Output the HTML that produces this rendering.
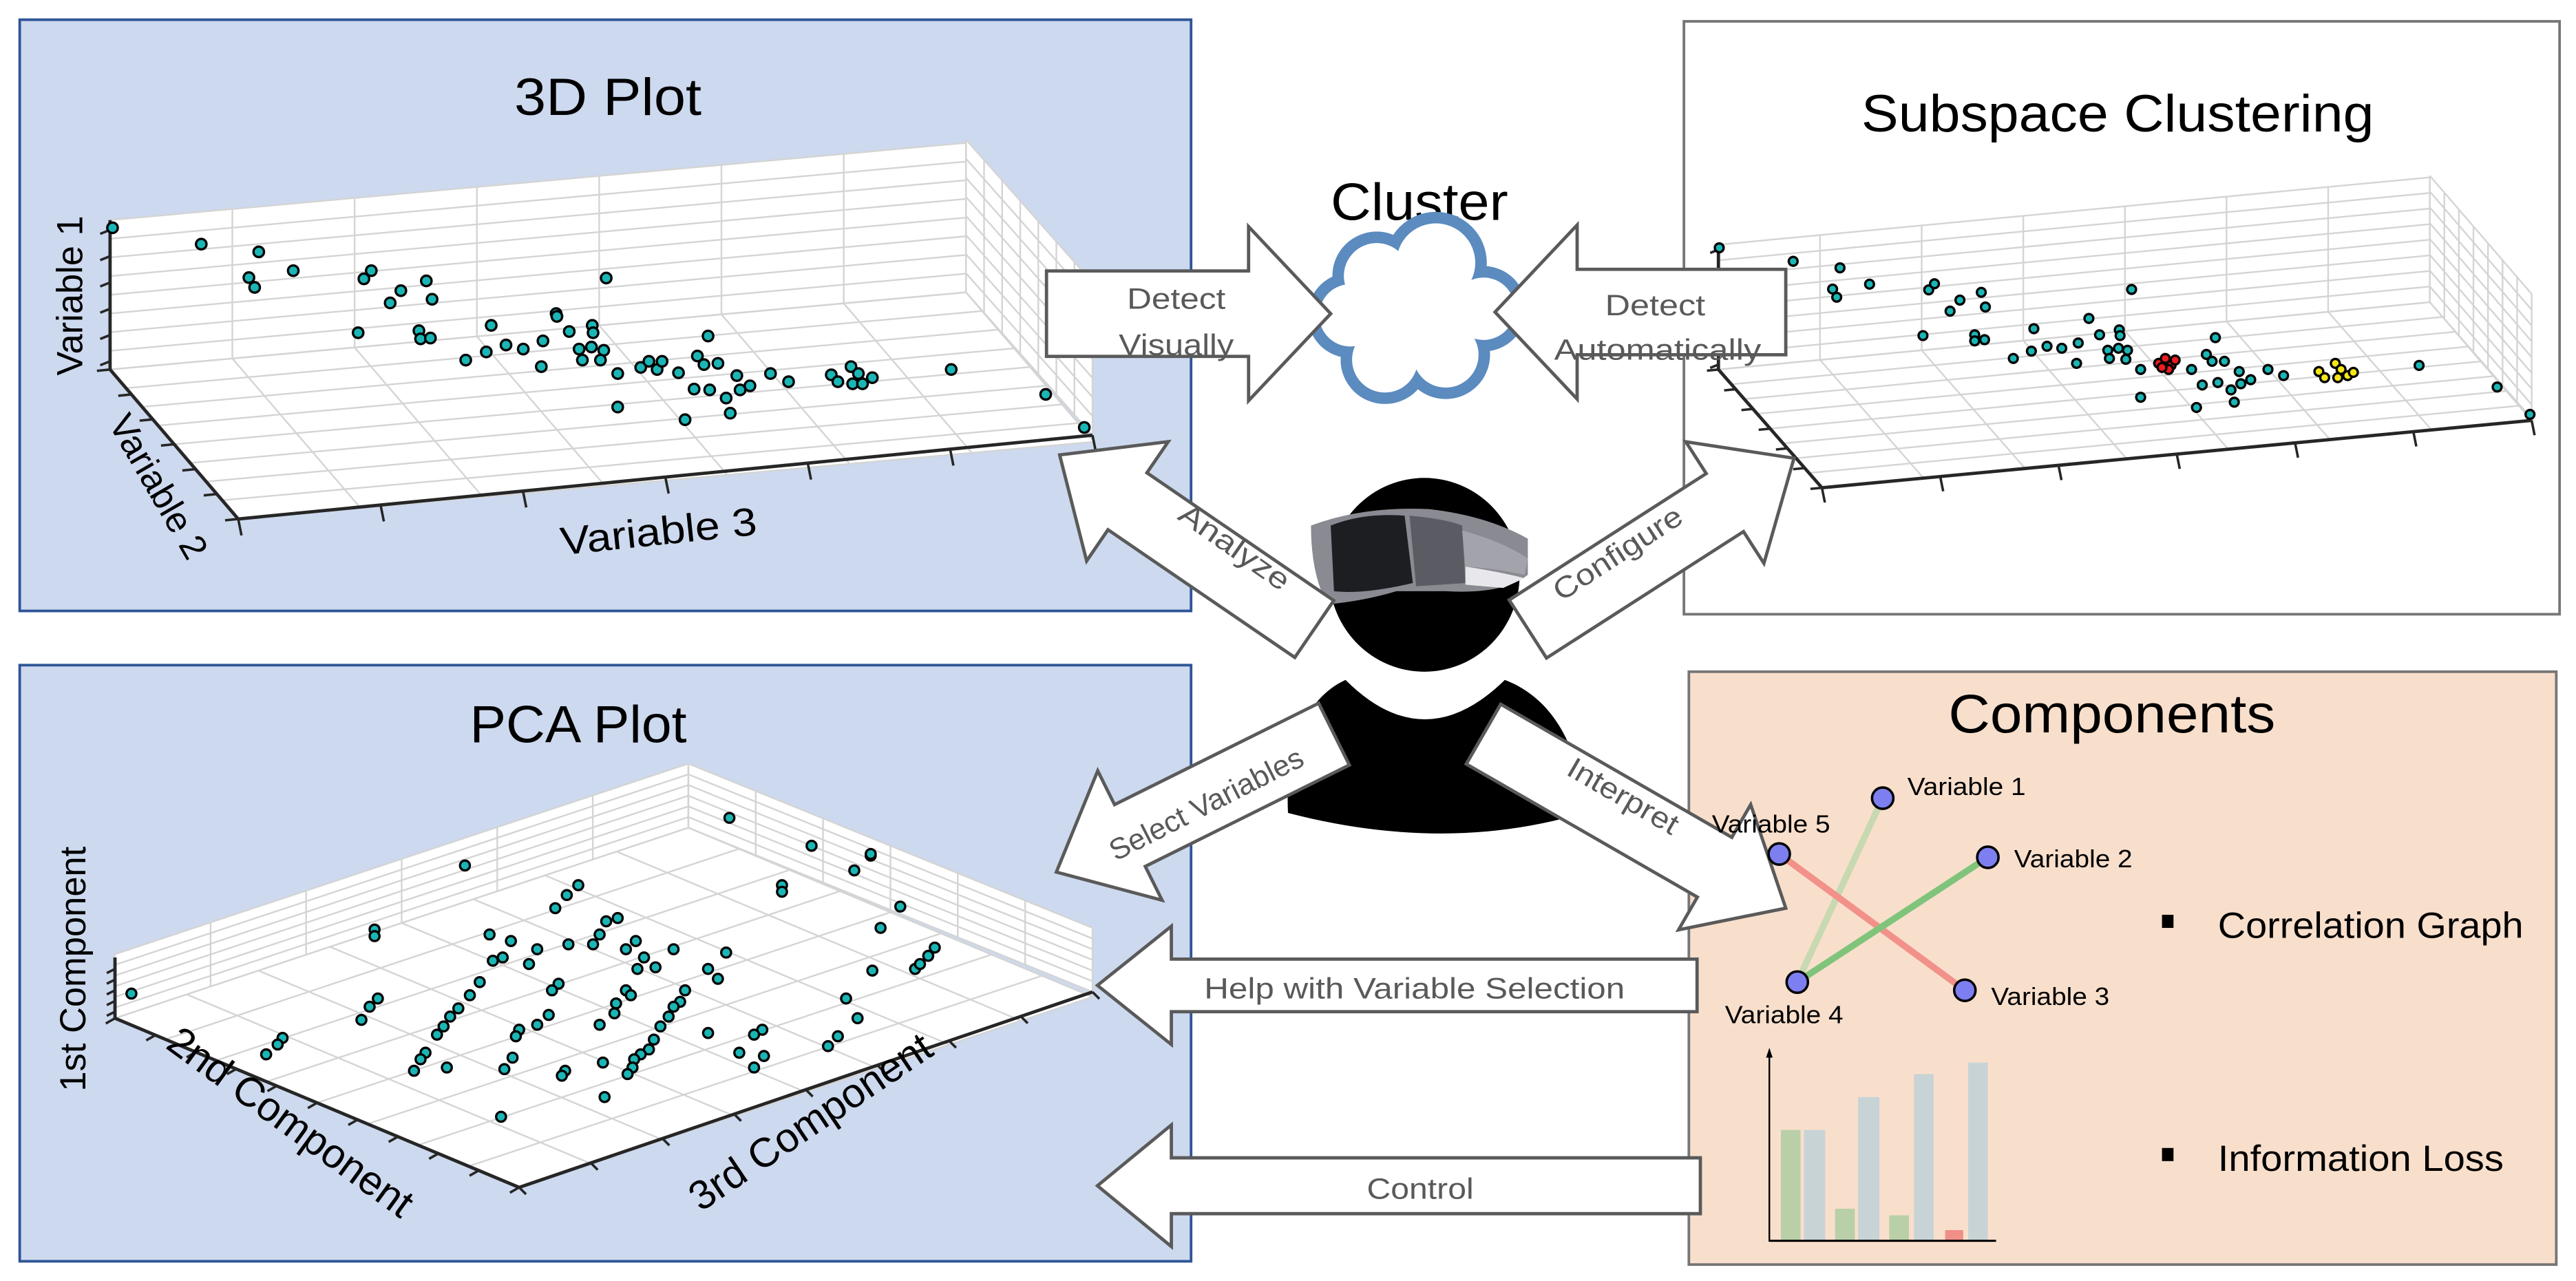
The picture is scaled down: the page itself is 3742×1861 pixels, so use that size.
<!DOCTYPE html>
<html><head><meta charset="utf-8"><style>
html,body{margin:0;padding:0;background:#fff;}
svg{display:block;}
.t{font-family:"Liberation Sans Narrow","Liberation Sans",sans-serif;}
.w{font-family:"Liberation Sans",sans-serif;}
</style></head><body>
<svg id="s" width="3742" height="1861" viewBox="0 0 1568 780" preserveAspectRatio="none" xmlns="http://www.w3.org/2000/svg">
<rect x="0" y="0" width="1568" height="780" fill="#fff"/>
<rect x="12" y="12" width="713" height="360" fill="#cdd9ee" stroke="#2f5597" stroke-width="1.6"/>
<rect x="1025" y="13" width="533" height="361" fill="#fff" stroke="#767676" stroke-width="1.6"/>
<rect x="12" y="405" width="713" height="363" fill="#cdd9ee" stroke="#2f5597" stroke-width="1.6"/>
<rect x="1028" y="409" width="528" height="361" fill="#f8dfcc" stroke="#767676" stroke-width="1.6"/>
<g id="plots"></g>
<text class="t" x="313" y="70" font-size="32" textLength="114" lengthAdjust="spacingAndGlyphs">3D Plot</text>
<text class="t" x="1133" y="80" font-size="32" textLength="312" lengthAdjust="spacingAndGlyphs">Subspace Clustering</text>
<text class="t" x="286" y="452" font-size="32" textLength="132" lengthAdjust="spacingAndGlyphs">PCA Plot</text>
<text class="t" x="1186" y="446" font-size="33" textLength="199" lengthAdjust="spacingAndGlyphs">Components</text>
<text class="t" x="810" y="134" font-size="32" textLength="108" lengthAdjust="spacingAndGlyphs">Cluster</text>
<text class="w" font-size="22" text-anchor="middle" transform="translate(50,180) rotate(-90)">Variable 1</text>
<text class="w" font-size="22" text-anchor="middle" transform="translate(90,300) rotate(60)">Variable 2</text>
<text class="t" font-size="24" transform="translate(342,338) rotate(-6)" textLength="120" lengthAdjust="spacingAndGlyphs">Variable 3</text>
<text class="w" font-size="22" text-anchor="middle" transform="translate(52,590) rotate(-90)">1st Component</text>
<text class="t" font-size="25" text-anchor="middle" transform="translate(172,690) rotate(36)">2nd Component</text>
<text class="t" font-size="25" text-anchor="middle" transform="translate(498,690) rotate(-34)">3rd Component</text>
<g id="cloud"></g>
<ellipse cx="867" cy="350" rx="58" ry="59" fill="#000"/>
<path d="M784,495 C782,455 795,425 819,414 Q867,462 916,414 C945,425 962,455 964,495 Q880,520 784,495 Z" fill="#000"/>
<path d="M798,320 Q830,308 870,310 Q905,314 930,328 L930,350 Q915,362 880,360 L850,360 Q830,366 808,368 Q798,350 798,320 Z" fill="#8a8a92"/>
<path d="M810,320 Q830,312 855,314 L860,355 Q830,362 812,360 Z" fill="#1d1e22"/>
<path d="M858,314 Q880,316 890,320 L892,355 L862,357 Z" fill="#5a5b63"/>
<path d="M890,323 Q915,330 930,340 L928,350 Q910,346 892,345 Z" fill="#a3a3ab"/>
<path d="M892,345 Q912,348 928,352 L915,358 L892,356 Z" fill="#e8e8ec"/>
<g id="arrows"></g>
<line x1="1146" y1="486" x2="1094" y2="598" stroke="#c8d9b2" stroke-width="4"/>
<line x1="1083" y1="520" x2="1196" y2="603" stroke="#f2918a" stroke-width="4"/>
<line x1="1210" y1="522" x2="1094" y2="598" stroke="#80c47c" stroke-width="4"/>
<g fill="#7d7ff0" stroke="#000" stroke-width="1.5">
<circle cx="1146" cy="486" r="6.5"/><circle cx="1083" cy="520" r="6.5"/><circle cx="1210" cy="522" r="6.5"/><circle cx="1094" cy="598" r="6.5"/><circle cx="1196" cy="603" r="6.5"/>
</g>
<g class="t" font-size="15">
<text x="1161" y="484" textLength="72" lengthAdjust="spacingAndGlyphs">Variable 1</text>
<text x="1042" y="507" textLength="72" lengthAdjust="spacingAndGlyphs">Variable 5</text>
<text x="1226" y="528" textLength="72" lengthAdjust="spacingAndGlyphs">Variable 2</text>
<text x="1050" y="623" textLength="72" lengthAdjust="spacingAndGlyphs">Variable 4</text>
<text x="1212" y="612" textLength="72" lengthAdjust="spacingAndGlyphs">Variable 3</text>
</g>
<rect x="1316" y="557" width="7" height="8" fill="#000"/>
<text class="t" x="1350" y="571" font-size="22" textLength="186" lengthAdjust="spacingAndGlyphs">Correlation Graph</text>
<rect x="1316" y="699" width="7" height="8" fill="#000"/>
<text class="t" x="1350" y="713" font-size="22" textLength="174" lengthAdjust="spacingAndGlyphs">Information Loss</text>
<g>
<rect x="1084" y="688" width="12" height="67" fill="#b9cfa8"/>
<rect x="1098" y="688" width="13" height="67" fill="#c8d3d6"/>
<rect x="1117" y="736" width="12" height="19" fill="#b9cfa8"/>
<rect x="1131" y="668" width="13" height="87" fill="#c8d3d6"/>
<rect x="1150" y="740" width="12" height="15" fill="#b9cfa8"/>
<rect x="1165" y="654" width="12" height="101" fill="#c8d3d6"/>
<rect x="1184" y="749" width="11" height="6" fill="#ef8f88"/>
<rect x="1198" y="647" width="12" height="108" fill="#c8d3d6"/>
<line x1="1077" y1="641" x2="1077" y2="756" stroke="#000" stroke-width="1"/>
<line x1="1077" y1="755.5" x2="1215" y2="755.5" stroke="#000" stroke-width="1.3"/>
<path d="M1075,644 L1077,638 L1079,644 Z" fill="#000"/>
</g>
<g id="labels" class="t" font-size="18" fill="#595959">
<text x="686" y="188" textLength="60" lengthAdjust="spacingAndGlyphs">Detect</text>
<text x="681" y="216" textLength="70" lengthAdjust="spacingAndGlyphs">Visually</text>
<text x="977" y="192" textLength="61" lengthAdjust="spacingAndGlyphs">Detect</text>
<text x="946" y="219" textLength="126" lengthAdjust="spacingAndGlyphs">Automatically</text>
<text text-anchor="middle" transform="translate(748,338) rotate(35)" textLength="78" lengthAdjust="spacingAndGlyphs">Analyze</text>
<text text-anchor="middle" transform="translate(988,342) rotate(-33)" textLength="90" lengthAdjust="spacingAndGlyphs">Configure</text>
<text text-anchor="middle" transform="translate(737,495) rotate(-27)" textLength="130" lengthAdjust="spacingAndGlyphs">Select Variables</text>
<text text-anchor="middle" transform="translate(985,490) rotate(30)" textLength="75" lengthAdjust="spacingAndGlyphs">Interpret</text>
<text x="733" y="608" textLength="256" lengthAdjust="spacingAndGlyphs">Help with Variable Selection</text>
<text x="832" y="730" textLength="65" lengthAdjust="spacingAndGlyphs">Control</text>
</g>
</svg>
<script>
(function(){
var NS="http://www.w3.org/2000/svg";
function el(parent,tag,attrs){var e=document.createElementNS(NS,tag);for(var k in attrs)e.setAttribute(k,attrs[k]);parent.appendChild(e);return e;}
var P=document.getElementById('plots');
function poly(pts,fill){el(P,'polygon',{points:pts.map(function(p){return p.join(',')}).join(' '),fill:fill,stroke:'none'});}
function grid(o,u,v,nu,nv,col){
  for(var i=0;i<=nu;i++){var a=[o[0]+u[0]*i/nu,o[1]+u[1]*i/nu];el(P,'line',{x1:a[0],y1:a[1],x2:a[0]+v[0],y2:a[1]+v[1],stroke:col||'#d4d4d4','stroke-width':1});}
  for(var j=0;j<=nv;j++){var b=[o[0]+v[0]*j/nv,o[1]+v[1]*j/nv];el(P,'line',{x1:b[0],y1:b[1],x2:b[0]+u[0],y2:b[1]+u[1],stroke:col||'#d4d4d4','stroke-width':1});}
}
function quad(o,u,v,fill){poly([o,[o[0]+u[0],o[1]+u[1]],[o[0]+u[0]+v[0],o[1]+u[1]+v[1]],[o[0]+v[0],o[1]+v[1]]],fill);}
function ln(a,b,w,c){el(P,'line',{x1:a[0],y1:a[1],x2:b[0],y2:b[1],stroke:c||'#262626','stroke-width':w||2});}
function ticks(a,b,n,d,len){for(var i=0;i<=n;i++){var x=a[0]+(b[0]-a[0])*i/n,y=a[1]+(b[1]-a[1])*i/n;ln([x,y],[x+d[0]*len,y+d[1]*len],1.5);}}
function dots(list,sx,ox,sy,oy,fill,r){list.forEach(function(p){el(P,'circle',{cx:p[0]*sx+ox,cy:p[1]*sy+oy,r:r||3.2,fill:fill||'#1bb5b5',stroke:'#000','stroke-width':1.4});});}
var o=[67,225],U=[521,-47],V=[0,-91],W=[78,91];
quad(o,U,V,'#fff');quad(o,U,W,'#fff');quad([588,178],[77,87],[0,-93],'#fff');
grid(o,U,V,7,8);grid(o,U,W,7,8);grid([588,178],[77,87],[0,-93],7,8);
ln([67,134],[67,225]);ln([67,225],[145,316]);ln([145,316],[665,265]);
ticks([67,140],[67,220],5,[-1,0.4],6);ticks([67,225],[145,316],6,[-1,0.1],8);ticks([145,316],[665,265],6,[0.2,1],10);
var d3=[[137,558],[245,598],[315,617],[357,663],[303,680],[310,704],[443,683],[452,663],[519,688],[488,712],[526,733],[475,742],[738,681],[436,815],[510,810],[512,830],[524,828],[598,797],[677,768],[693,812],[721,797],[722,815],[661,835],[637,855],[616,845],[592,862],[567,882],[659,898],[705,855],[709,882],[720,850],[735,858],[731,882],[752,915],[752,997],[862,823],[849,872],[857,893],[874,890],[826,913],[897,920],[938,915],[960,935],[845,953],[864,955],[834,1028],[889,1012],[884,975],[901,955],[913,945],[1158,905],[1273,966],[1320,1047],[780,900],[790,885],[800,905],[806,885],[1012,918],[1020,935],[1036,898],[1045,915],[1038,940],[1050,940],[1062,925],[678,775]];
dots(d3,0.5,0,0.2486,0);
o=[1046,225];U=[433,-41];V=[0,-76];W=[63,72];
grid(o,U,V,7,8);grid(o,U,W,7,8);grid([1479,184],[62,72],[0,-77],7,8);
ln([1046,149],[1046,225]);ln([1046,225],[1109,297]);ln([1109,297],[1541,256]);
ticks([1046,152],[1046,222],5,[-1,0.4],5);ticks([1046,225],[1109,297],6,[-1,0.1],7);ticks([1109,297],[1541,256],6,[0.2,1],9);
var ds=[[525,607],[615,640],[672,656],[708,696],[663,708],[668,728],[780,710],[787,695],[818,735],[844,716],[849,752],[806,762],[1027,709],[773,822],[836,820],[836,835],[848,832],[908,805],[975,780],[988,820],[1012,808],[1013,822],[962,840],[942,853],[924,848],[905,860],[883,878],[960,890],[998,858],[1000,878],[1011,853],[1022,858],[1020,880],[1038,905],[1038,973],[1129,827],[1118,868],[1125,885],[1140,885],[1100,905],[1158,910],[1193,905],[1212,920],[1113,943],[1132,937],[1106,998],[1152,985],[1148,955],[1160,940],[1172,930],[1377,895],[1472,948],[1512,1015]];
dots(ds,0.5,784,0.2486,0,'#1bb5b5',2.7);
dots([[1060,890],[1068,878],[1075,895],[1080,882],[1072,905],[1064,900]],0.5,784,0.2486,0,'#ee1c1c',2.7);
dots([[1255,910],[1275,890],[1282,905],[1290,920],[1297,912],[1262,925],[1278,925]],0.5,784,0.2486,0,'#f5e61a',2.7);
o=[70,620];U=[349,-116];W=[246,103];V=[0,-39];
quad(o,U,W,'#fff');quad(o,U,V,'#fff');quad([419,504],[246,100],V,'#fff');
grid(o,U,V,6,6);grid([419,504],[246,100],V,6,6);grid(o,U,W,8,8);
ln([70,583],[70,620]);ln([70,620],[316,723]);ln([316,723],[665,604]);
ticks([70,590],[70,616],4,[-1,0.5],5);ticks([70,620],[316,723],10,[-0.7,0.4],8);ticks([316,723],[665,604],8,[0.6,0.6],7);
var dp=[[80,605],[444,498],[494,515],[530,521],[520,530],[283,527],[476,539],[352,539],[345,545],[338,553],[548,552],[228,566],[536,565],[369,561],[376,559],[298,569],[311,573],[365,569],[361,575],[346,575],[387,573],[381,578],[410,578],[442,580],[569,577],[327,578],[322,587],[300,585],[306,583],[392,583],[388,590],[399,589],[431,590],[437,596],[531,591],[557,590],[292,598],[340,599],[336,603],[381,603],[384,606],[417,603],[414,610],[410,613],[407,619],[230,608],[225,613],[220,621],[286,606],[279,614],[274,619],[270,625],[266,630],[515,608],[522,620],[375,611],[374,617],[334,618],[327,624],[316,627],[314,631],[365,624],[402,625],[398,633],[395,639],[390,642],[172,632],[169,636],[162,642],[431,629],[464,627],[459,630],[510,631],[504,637],[450,641],[465,643],[459,650],[259,641],[256,645],[252,652],[272,650],[312,644],[307,651],[367,647],[344,652],[342,655],[386,645],[385,650],[382,654],[368,668],[305,680],[228,570],[565,582],[560,587],[530,520],[476,543]];
dots(dp,1,0,1,0,'#1bb5b5',3);
var C=document.getElementById('cloud');
var cs=[[838,168,20],[874,160,24],[903,188,19],[880,216,20],[843,219,20],[822,192,19],[865,190,30]];
cs.forEach(function(c){el(C,'circle',{cx:c[0],cy:c[1],r:c[2]+7,fill:'#5b8bbf'});});
cs.forEach(function(c){el(C,'circle',{cx:c[0],cy:c[1],r:c[2],fill:'#fff'});});
var A=document.getElementById('arrows');
function arrow(t,h,bw,hw,hl){
  var dx=h[0]-t[0],dy=h[1]-t[1],L=Math.sqrt(dx*dx+dy*dy),ux=dx/L,uy=dy/L,nx=-uy,ny=ux;
  var b=[h[0]-ux*hl,h[1]-uy*hl];
  var pts=[[t[0]+nx*bw,t[1]+ny*bw],[b[0]+nx*bw,b[1]+ny*bw],[b[0]+nx*hw,b[1]+ny*hw],h,[b[0]-nx*hw,b[1]-ny*hw],[b[0]-nx*bw,b[1]-ny*bw],[t[0]-nx*bw,t[1]-ny*bw]];
  el(A,'polygon',{points:pts.map(function(p){return p.join(',')}).join(' '),fill:'#fff',stroke:'#5a5a5a','stroke-width':2,'stroke-linejoin':'miter'});
}
arrow([637,191],[810,191],26,53,50);
arrow([1087,190],[910,190],26,53,50);
arrow([800,383],[645,277],21,44,50);
arrow([930,383],[1092,279],21,44,50);
arrow([812,447],[643,531],21,44,50);
arrow([903,447],[1087,553],21,44,50);
arrow([1033,600],[668,600],16,36,45);
arrow([1035,722],[668,722],17,37,45);
})();
</script>
</body></html>
